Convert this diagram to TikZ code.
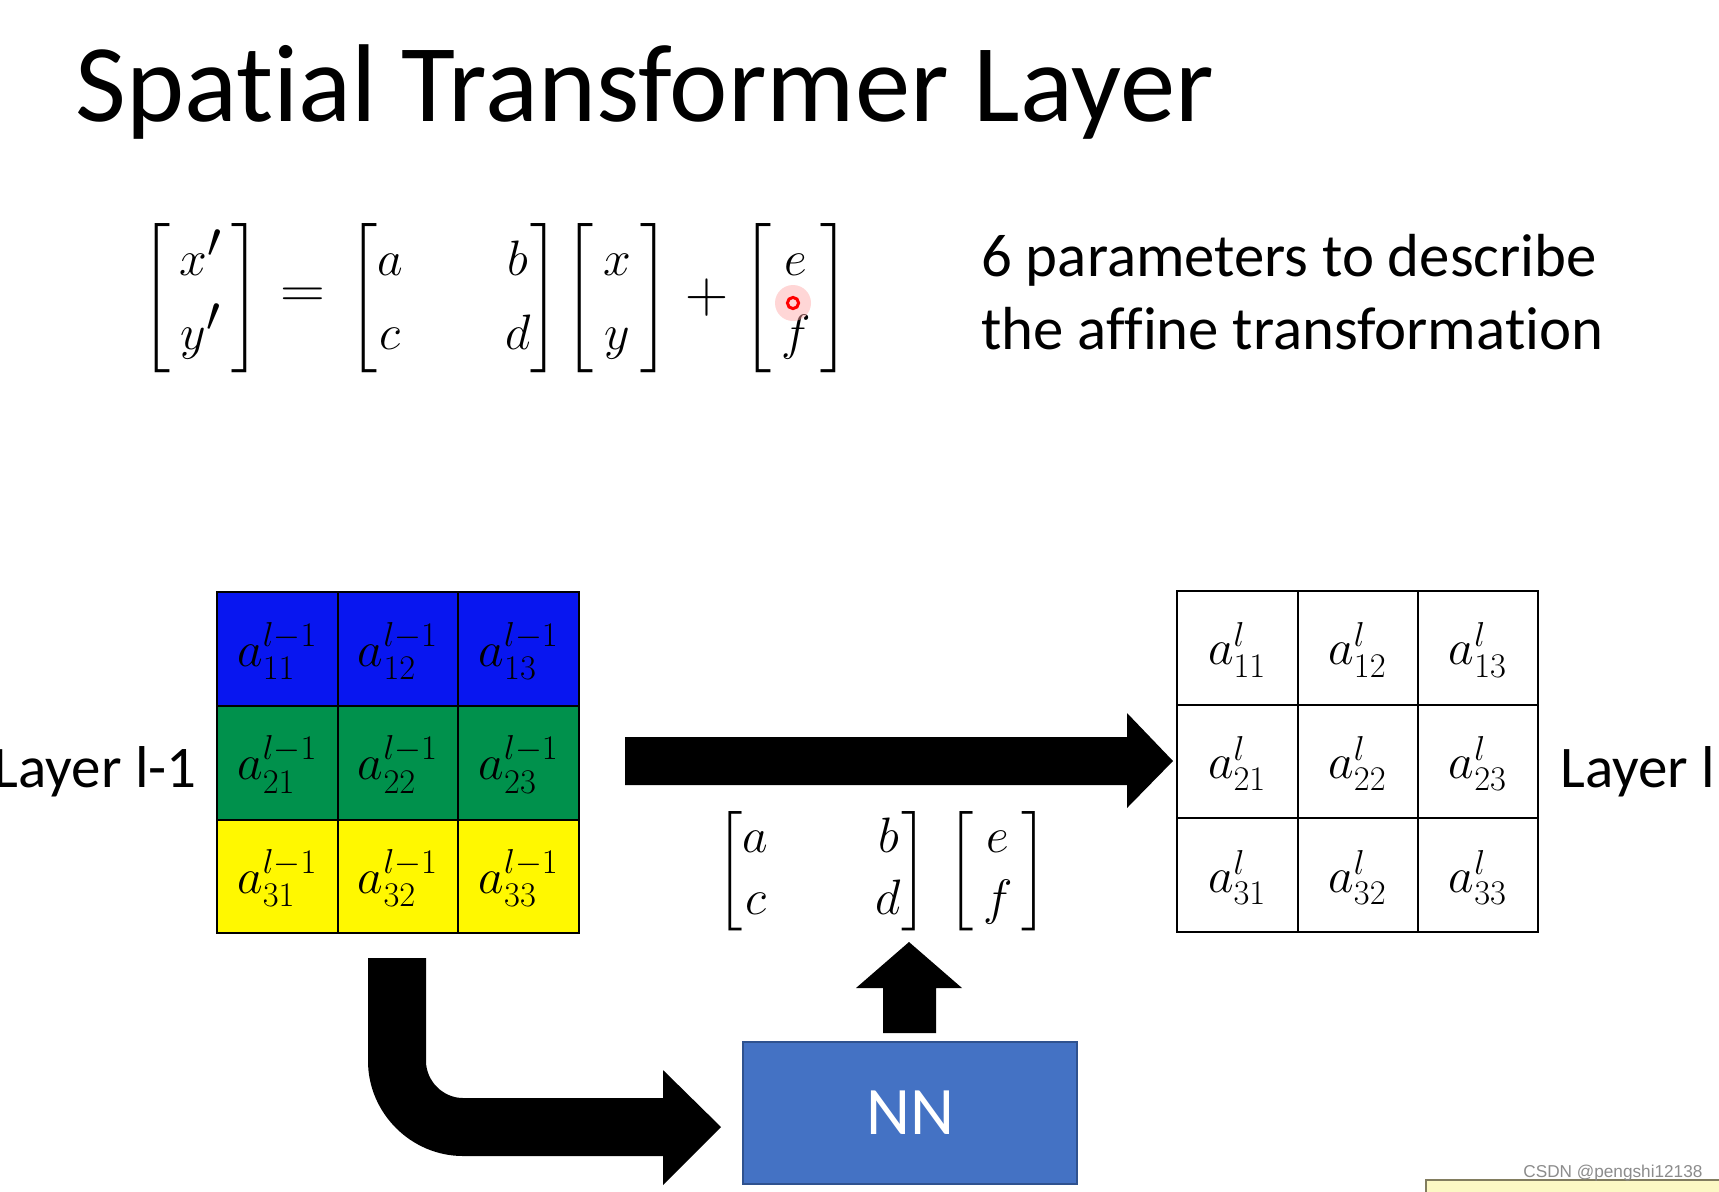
\documentclass[tikz,border=0pt]{standalone}
\usepackage{amsmath}
\usepackage{fontspec}
\setmainfont{Carlito}[Ligatures={NoCommon,NoContextual},Contextuals=NoAlternate]
\newfontfamily\wmfont{Liberation Sans}
\definecolor{blueC}{RGB}{8,22,240}
\definecolor{greenC}{RGB}{0,145,76}
\definecolor{yellowC}{RGB}{255,248,0}
\definecolor{nnblue}{RGB}{68,114,196}
\definecolor{nnborder}{RGB}{47,82,143}
\definecolor{noteY}{RGB}{252,248,196}
\definecolor{noteB}{RGB}{130,125,95}
\newcommand{\pd}{\hspace{0.12em}}
\begin{document}
\begin{tikzpicture}[x=0.5pt,y=-0.5pt,
  celltext/.style={inner sep=0pt, font=\fontsize{25}{30}\selectfont},
  eqtext/.style={inner sep=0pt, font=\fontsize{39}{46}\selectfont},
  partext/.style={inner sep=0pt, font=\fontsize{38}{44}\selectfont},
  lbl/.style={inner sep=0pt, font=\fontsize{29.5}{34}\selectfont},
  gridline/.style={draw=black, line width=1.2pt},
  blockarrow/.style={fill=black}]
\useasboundingbox (0,0) rectangle (1719,1191);
\fill[white] (0,0) rectangle (1719,1191);

% title
\node[anchor=base west, inner sep=0pt, font=\fontsize{55.3}{60}\selectfont] (title) at (75,121) {Spatial Transformer Layer};

% top equation
\renewcommand{\arraystretch}{0.8}
\node[eqtext] (m1) at (201,298) {$\begin{bmatrix}\pd x'\pd\\ \pd y'\pd\end{bmatrix}$};
\node[eqtext] (eqs) at (303,298) {\scalebox{1.25}[1.1]{$=$}};
\node[eqtext] (m2) at (454,298) {$\begin{bmatrix}a&\hspace{1.05em}b\\c&\hspace{1.05em}d\end{bmatrix}$};
\node[eqtext] (m3) at (617,298) {$\begin{bmatrix}\pd x\pd\\ \pd y\pd\end{bmatrix}$};
\node[eqtext] (plus) at (707,298) {\scalebox{1.2}{$+$}};
\node[eqtext] (m4) at (796,298) {$\begin{bmatrix}\pd e\pd\\ \pd f\pd\end{bmatrix}$};

% pointer dot
\fill[red!35, opacity=0.45] (793,303) circle (9pt);
\draw[red, line width=1.5pt] (793,303) circle (2.8pt);

% description
\node[anchor=base west, inner sep=0pt, font=\fontsize{30.4}{36}\selectfont] (desc1) at (981,276) {6 parameters to describe};
\node[anchor=base west, inner sep=0pt, font=\fontsize{30.4}{36}\selectfont] (desc2) at (981,349) {the affine transformation};

% left grid
\fill[blueC] (217,592) rectangle (579,706);
\fill[greenC] (217,706) rectangle (579,820);
\fill[yellowC] (217,820) rectangle (579,933);
\draw[gridline] (217,592) rectangle (579,933);
\draw[gridline] (338,592) -- (338,933) (458,592) -- (458,933) (217,706) -- (579,706) (217,820) -- (579,820);
\foreach \r in {1,2,3}
  \foreach \c in {1,2,3}
    \node[celltext] (L\r\c) at ({217+120.67*(\c-0.5)},{592+113.67*(\r-0.5)+2}) {$a_{\r\c}^{l-1}$};

% right grid
\draw[gridline] (1177,591) rectangle (1538,932);
\draw[gridline] (1298,591) -- (1298,932) (1418,591) -- (1418,932) (1177,705) -- (1538,705) (1177,818) -- (1538,818);
\foreach \r in {1,2,3}
  \foreach \c in {1,2,3}
    \node[celltext] (R\r\c) at ({1177+120.33*(\c-0.5)},{591+113.67*(\r-0.5)+2}) {$a_{\r\c}^{l}$};

% labels
\node[lbl, anchor=base east] (lin) at (197,787) {Layer l-1};
\node[lbl, anchor=base west] (lout) at (1560,787) {Layer l};

% big horizontal arrow
\fill[blockarrow] (625,737) -- (1127,737) -- (1127,713) -- (1173,761) -- (1127,808) -- (1127,785) -- (625,785) -- cycle;

% parameters
\renewcommand{\arraystretch}{0.7}
\node[partext] (p1) at (822,871) {$\begin{bmatrix}a&\hspace{1.15em}b\\c&\hspace{1.15em}d\end{bmatrix}$};
\node[partext] (p2) at (998,871) {$\begin{bmatrix}\pd e\pd\\ \pd f\pd\end{bmatrix}$};

% NN box
\node[draw=nnborder, line width=0.8pt, fill=nnblue, minimum width=167pt, minimum height=71pt, inner sep=0pt, text=white, font=\fontsize{34}{40}\selectfont] (nn) at (910,1113) {NN};

% up arrow
\fill[blockarrow] (883,1033) -- (883,988) -- (856,988) -- (909,942) -- (962,988) -- (936,988) -- (936,1033) -- cycle;

% bent arrow
\fill[blockarrow] (368,958) -- (368,1061) .. controls (368,1113) and (411,1156) .. (463,1156) -- (663,1156) -- (663,1185) -- (721,1127) -- (663,1070) -- (663,1098) -- (463,1098) .. controls (443,1098) and (426,1081) .. (426,1061) -- (426,958) -- cycle;

% note box and watermark
\draw[noteB, fill=noteY, line width=1pt] (1426,1180) rectangle (1730,1200);
\node[anchor=base west, inner sep=0pt, text=black!45, font=\wmfont\fontsize{8.6}{10}\selectfont] (wm) at (1523,1177) {CSDN @pengshi12138};
\end{tikzpicture}
\end{document}
